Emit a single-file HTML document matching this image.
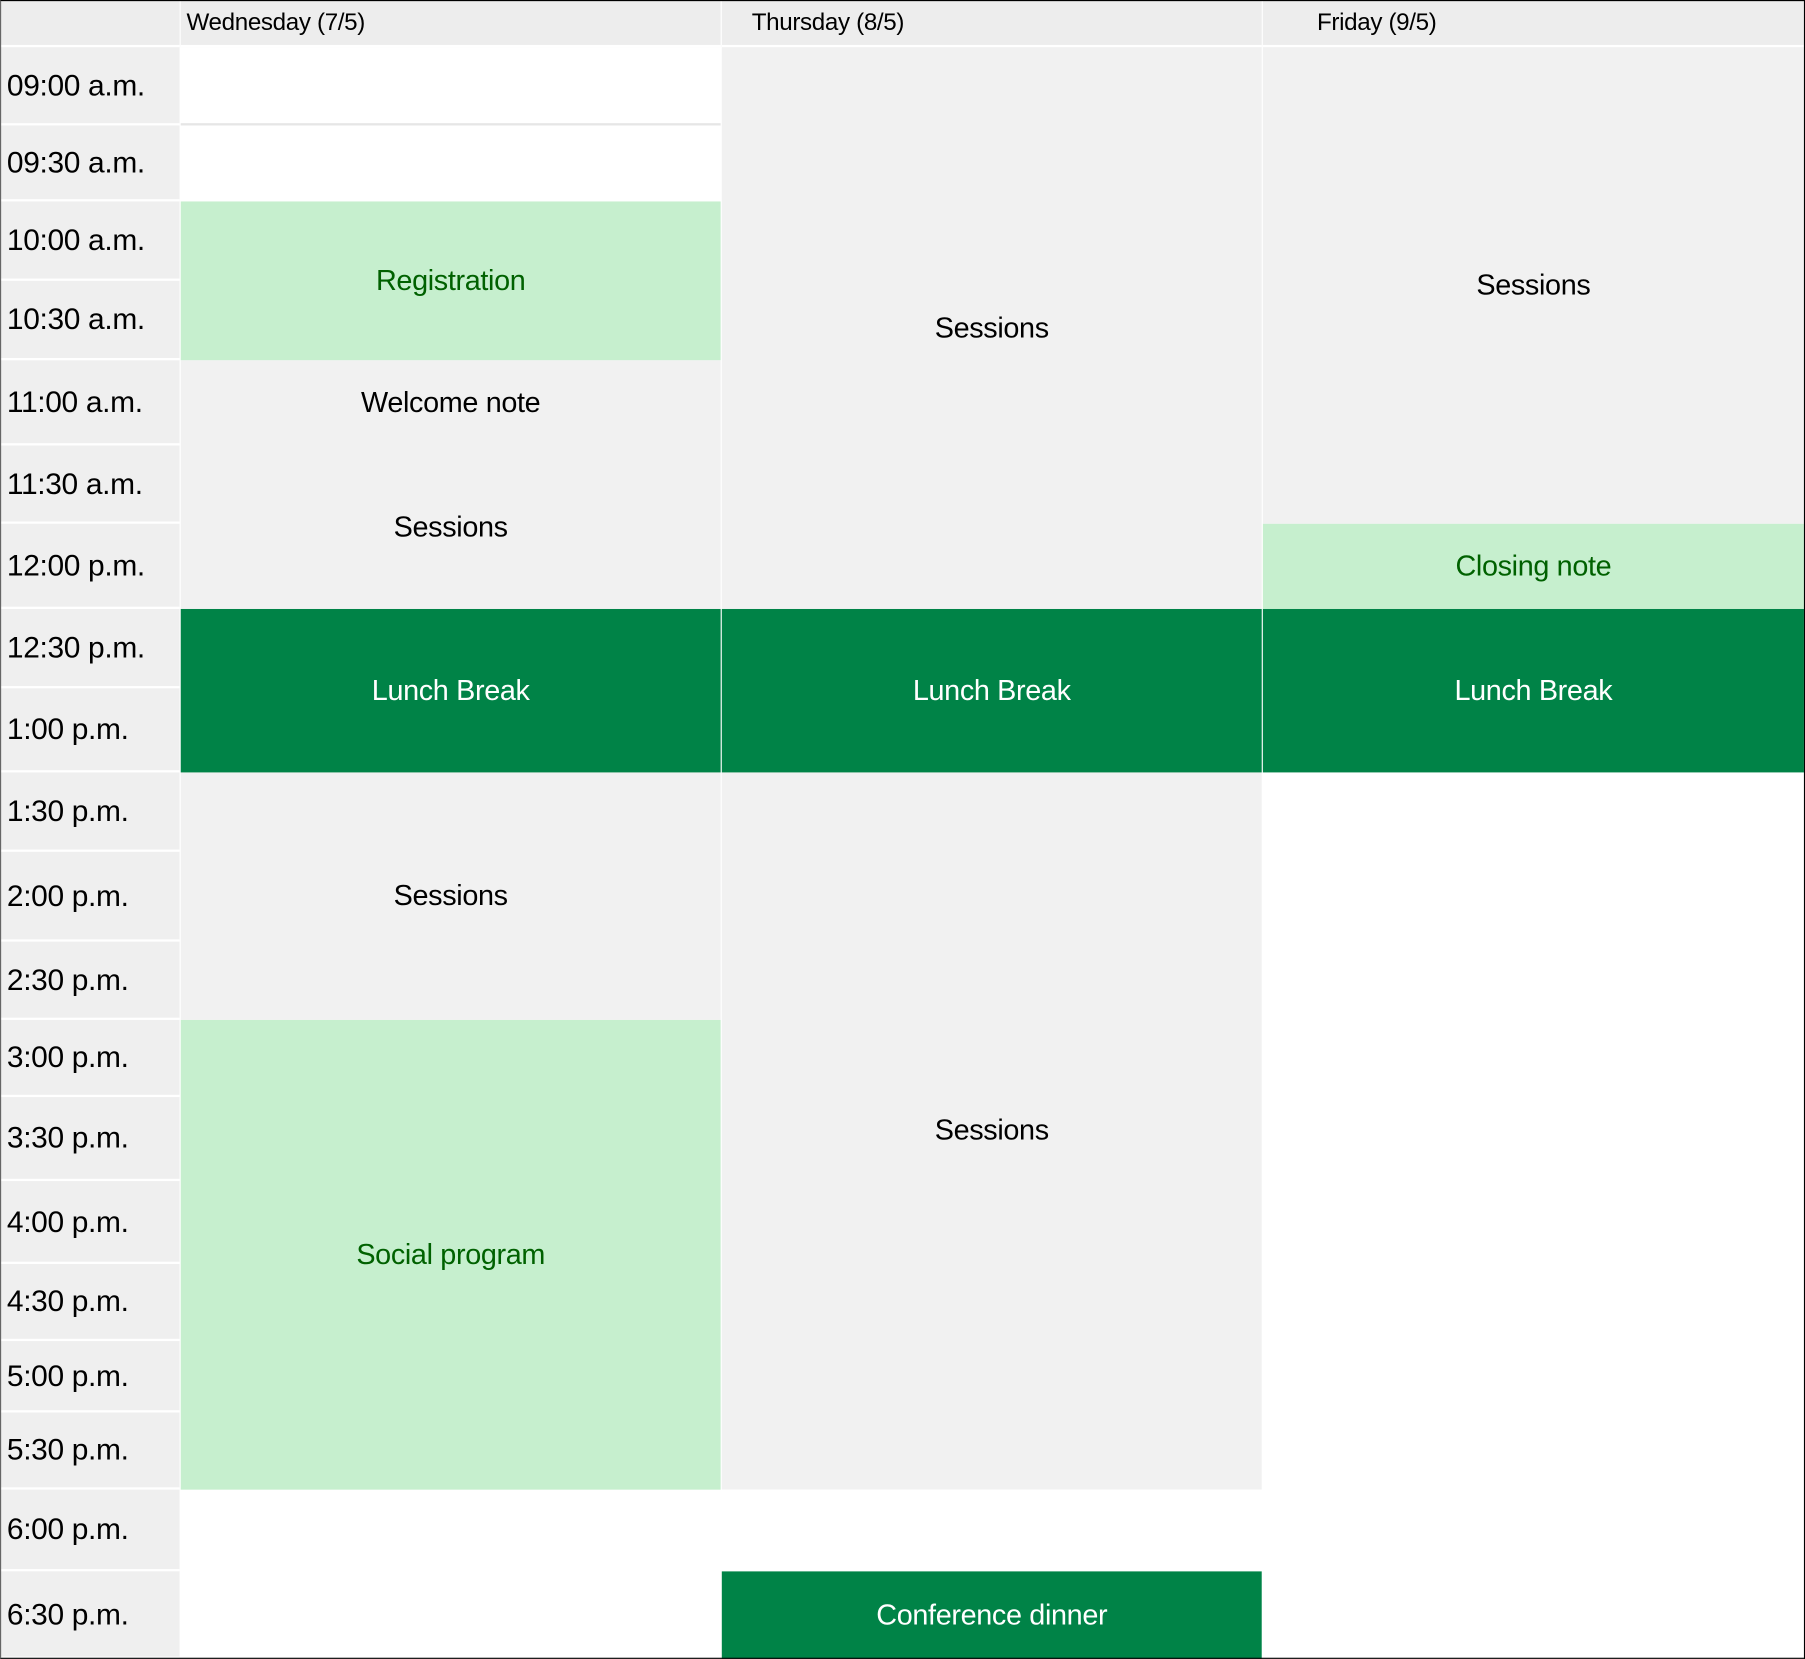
<!DOCTYPE html>
<html><head><meta charset="utf-8"><style>
html,body{margin:0;padding:0;background:#fff;width:1805px;height:1659px;overflow:hidden}
#wrap{position:absolute;left:0;top:0;width:1568px;height:1441px;transform:scale(1.1512);transform-origin:0 0;font-family:"Liberation Sans",sans-serif}
.c{position:absolute;box-sizing:border-box;display:flex;align-items:center;justify-content:center;font-size:25px;letter-spacing:-0.3px}
.t{justify-content:flex-start;padding-left:6px;background:#efefef;border-bottom:2px solid #fff;font-size:26px;color:#000}
.h{background:#ededed;font-size:21px;justify-content:flex-start;border-bottom:2px solid #fff}
.g{background:#f1f1f1;color:#000}
.l{background:#c6efce;color:#006100}
.d{background:#008347;color:#fff}
.w{background:#fff}
</style></head><body>
<div id="wrap">
<div id="grid"></div>
<div style="position:absolute;left:0;top:0;width:1568px;height:1441px;box-sizing:border-box;border:1.5px solid #000;border-left-color:#666;pointer-events:none"></div>
</div>
<script>
const rowEdges=[41,109,175,244,313,387,455,529,598,671,740,818,886,953,1026,1098,1165,1227,1294,1365,1441];
const times=["09:00 a.m.","09:30 a.m.","10:00 a.m.","10:30 a.m.","11:00 a.m.","11:30 a.m.","12:00 p.m.","12:30 p.m.","1:00 p.m.","1:30 p.m.","2:00 p.m.","2:30 p.m.","3:00 p.m.","3:30 p.m.","4:00 p.m.","4:30 p.m.","5:00 p.m.","5:30 p.m.","6:00 p.m.","6:30 p.m."];
const days=["Wednesday (7/5)","Thursday (8/5)","Friday (9/5)"];
const colEdges=[0,157,627,1097,1568];
const headerPad=[5,26,47];
// events: [dayIndex, startSlot, endSlot, label, style]
const eventDays=[0,0,0,0,0,0,0,0,1,1,1,1,1,2,2,2,2];
const eventStart=[0,1,2,4,5,7,9,12,0,7,9,18,19,0,6,7,9];
const eventEnd=[0,1,3,4,6,8,11,17,6,8,17,18,19,5,6,8,19];
const eventLabels=["","","Registration","Welcome note","Sessions","Lunch Break","Sessions","Social program","Sessions","Lunch Break","Sessions","","Conference dinner","Sessions","Closing note","Lunch Break",""];
const eventStyles=["w","w","l","g","g","d","g","l","g","d","g","w","d","g","l","d","w"];
const grid=document.getElementById('grid');
function mk(cls,x,y,w,h,txt){const e=document.createElement('div');e.className='c '+cls;e.style.left=x+'px';e.style.top=y+'px';e.style.width=w+'px';e.style.height=h+'px';e.textContent=txt;grid.appendChild(e);return e;}
const corner=mk('h',0,0,156,41,'');


days.forEach((d,i)=>{const e=mk('h',colEdges[i+1],0,colEdges[i+2]-colEdges[i+1]-1,41,d);e.style.paddingLeft=headerPad[i]+'px';

});
times.forEach((t,i)=>{const e=mk('t',0,rowEdges[i],156,rowEdges[i+1]-rowEdges[i],t);

});
eventDays.forEach((d,i)=>{const x=colEdges[d+1],w=colEdges[d+2]-x-1;const y=rowEdges[eventStart[i]];const h=rowEdges[eventEnd[i]+1]-y;
const e=mk(eventStyles[i],x,y,w,h,eventLabels[i]);
if(eventStyles[i]==='w'&&eventStart[i]===0&&d===0){e.style.borderBottom='2px solid #e6e6e6';}

});
</script>
</body></html>
